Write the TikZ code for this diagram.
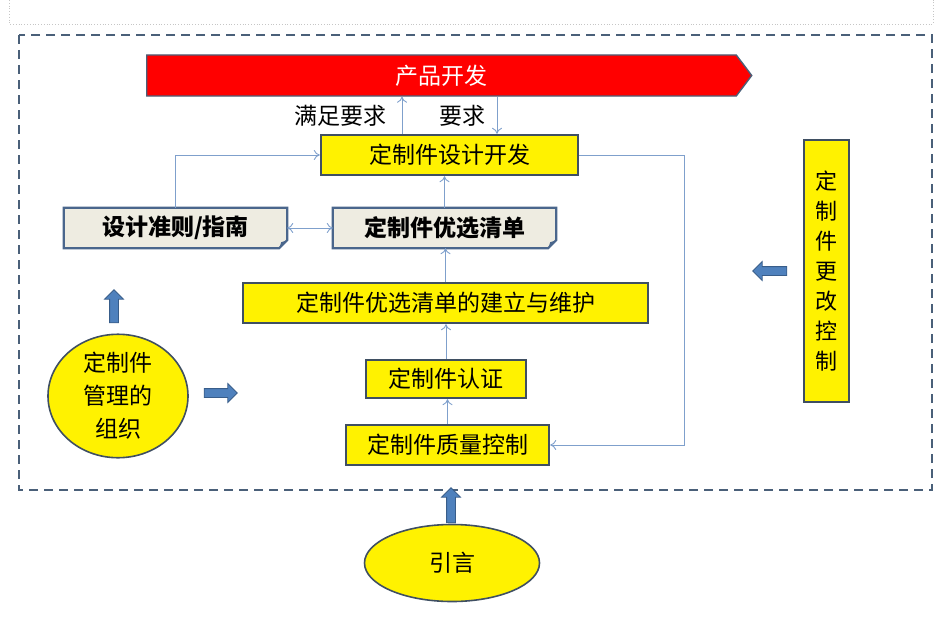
\documentclass[tikz,border=0pt]{standalone}
\usepackage{fontspec}
\setmainfont{Noto Sans CJK SC}
\usetikzlibrary{shapes.geometric,shapes.symbols,shapes.arrows,arrows.meta,backgrounds}
\definecolor{boxline}{HTML}{3F4F62}
\definecolor{noteline}{HTML}{4A668C}
\definecolor{notefill}{HTML}{EEECE1}
\definecolor{flowline}{HTML}{7FA0CC}
\definecolor{frameline}{HTML}{4A6079}
\definecolor{blockfill}{HTML}{4F81BD}
\definecolor{blockline}{HTML}{385D8A}
\tikzset{
  yellowbox/.style={draw=boxline, line width=2.4pt, fill=yellow, inner sep=0pt,
    font=\fontsize{23}{27}\selectfont},
  notebox/.style={inner sep=0pt, font=\bfseries\fontsize{23}{27}\selectfont},
  flow/.style={draw=flowline, line width=0.9pt, -{To[length=6pt,width=10pt]}},
  blockarr/.style={single arrow, fill=blockfill, draw=blockline, line width=0.8pt,
    inner xsep=0pt, inner ysep=4pt, single arrow head extend=5pt,
    single arrow head indent=0pt},
  oval/.style={ellipse, draw=boxline, line width=1.6pt, fill=yellow, inner sep=0pt,
    font=\fontsize{23}{33}\selectfont, align=center}
}
\begin{document}
\begin{tikzpicture}[x=1pt,y=-1pt]
        \useasboundingbox (0,0) rectangle (947,618);
        % the frames
        \draw[gray!45, dotted, line width=0.8pt] (9,0) -- (9,24) -- (933,24) -- (933,0);
        \draw[frameline, line width=2.2pt, dash pattern=on 9pt off 6pt] (19,35) rectangle (932,490);

        % product development
        \node[signal, signal to=east, signal pointer angle=106, minimum width=605pt,
          minimum height=41pt, inner sep=0pt, fill=red, draw=frameline, line width=1.4pt,
          text=white, font=\fontsize{23}{27}\selectfont] (prod) at (441.5,75.5) {产品开发};

        % the boxes
        \node[yellowbox, minimum width=257pt, minimum height=40pt] (dev) at (449.5,155) {定制件设计开发};
        \node[notebox, minimum width=223pt, minimum height=40pt] (guide) at (175.5,228) {设计准则/指南};
        \node[notebox, minimum width=223pt, minimum height=40pt] (pref) at (444.5,228) {定制件优选清单};
        \node[yellowbox, minimum width=405pt, minimum height=40pt] (build) at (445.5,303) {定制件优选清单的建立与维护};
        \node[yellowbox, minimum width=160pt, minimum height=38pt] (cert) at (446,379) {定制件认证};
        \node[yellowbox, minimum width=203pt, minimum height=40pt] (qc) at (447.5,445) {定制件质量控制};
        \node[yellowbox, minimum width=45pt, minimum height=262pt, align=center,
          font=\fontsize{22}{30}\selectfont] (chg) at (826.5,271) {定\\制\\件\\更\\改\\控\\制};

        % the folded notes
        \begin{scope}[on background layer]
          \foreach \n in {guide,pref} {
            \draw[noteline, line width=2.2pt, fill=notefill] (\n.south west) -- (\n.north west)
              -- (\n.north east) -- ([yshift=8pt]\n.south east) -- ([xshift=-8pt]\n.south east) -- cycle;
            \fill[noteline] ([yshift=8pt]\n.south east) -- ([xshift=-8pt]\n.south east)
              -- ([xshift=-6pt,yshift=6pt]\n.south east) -- cycle;
          }
        \end{scope}

        % the ovals
        \node[oval, minimum width=140pt, minimum height=107pt] (org) at (118,396) {定制件\\管理的\\组织};
        \node[oval, minimum width=175pt, minimum height=77pt] (intro) at (452,563) {引言};

        % thin connectors
        \draw[flow] ([xshift=-47.5pt]dev.north) -- ([xshift=-47.5pt]dev.north |- prod.south);
        \draw[flow] ([xshift=47.5pt]dev.north |- prod.south) -- ([xshift=47.5pt]dev.north);
        \node[font=\fontsize{23}{27}\selectfont] (meet) at (340,116) {满足要求};
        \node[font=\fontsize{23}{27}\selectfont] (req) at (462,116) {要求};
        \draw[flow] (guide.north) |- (dev.west);
        \draw[flow, {To[length=6pt,width=10pt]}-{To[length=6pt,width=10pt]}] (guide.east) -- (pref.west);
        \draw[flow] (pref.north) -- (pref.north |- dev.south);
        \draw[flow] (build.north) -- (build.north |- pref.south);
        \draw[flow] (cert.north) -- (cert.north |- build.south);
        \draw[flow] (qc.north) -- (qc.north |- cert.south);
        \draw[flow] (dev.east) -- ++(105,0) |- (qc.east);

        % block arrows
        \node[blockarr, rotate=90, minimum height=33pt] (upA) at (114,308.5) {};
        \node[blockarr, minimum height=33pt] (rightA) at (218.5,393) {};
        \node[blockarr, rotate=180, minimum height=34pt] (leftA) at (772,271) {};
        \node[blockarr, rotate=90, minimum height=35pt] (upB) at (451,507.5) {};
    \end{tikzpicture}
\end{document}
